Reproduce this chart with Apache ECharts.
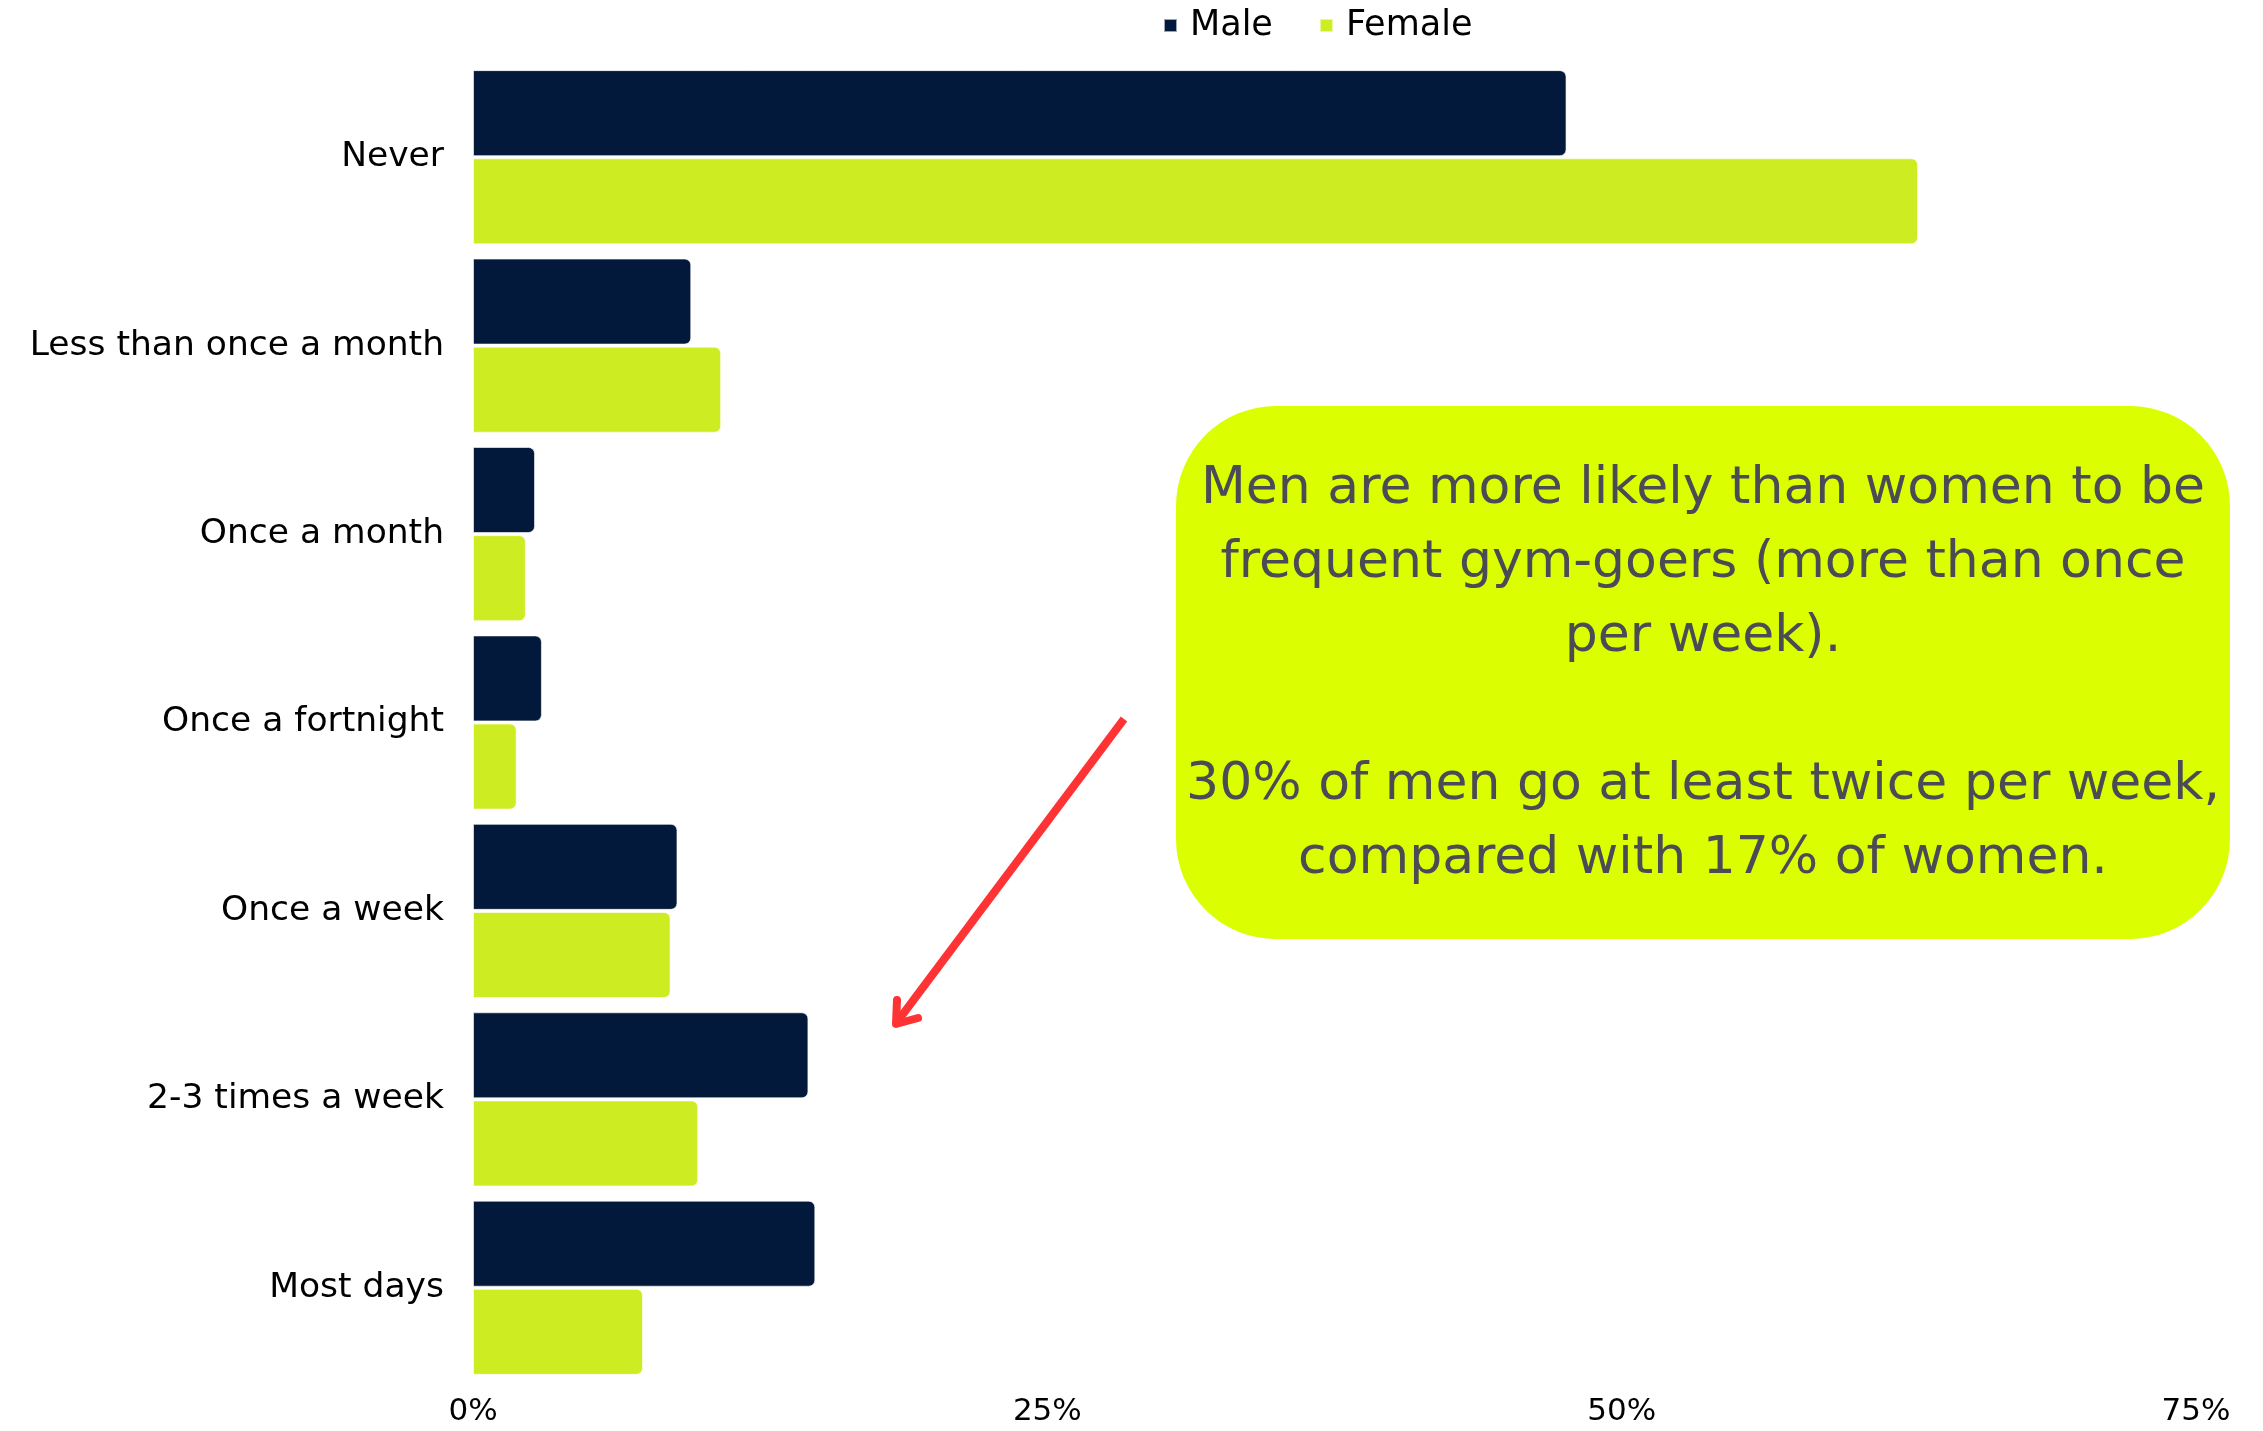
<!DOCTYPE html>
<html>
<head>
<meta charset="utf-8">
<script src="https://cdn.jsdelivr.net/npm/echarts@6/dist/echarts.min.js"></script>
<style>
  html, body { margin: 0; padding: 0; background: #ffffff; }
  #chart { width: 2263px; height: 1431px; }
</style>
</head>
<body>
<div id="chart"></div>
<script>
// Gym attendance frequency by gender (% of respondents)
const categories = ['Never', 'Less than once a month', 'Once a month', 'Once a fortnight', 'Once a week', '2-3 times a week', 'Most days'];
const maleValues = [47.6, 9.5, 2.7, 3.0, 8.9, 14.6, 14.9];
const femaleValues = [62.9, 10.8, 2.3, 1.9, 8.6, 9.8, 7.4];
const axisTicks = [0, 25, 50, 75];

const noteText = 'Men are more likely than women to be\nfrequent gym-goers (more than once\nper week).\n\n30% of men go at least twice per week,\ncompared with 17% of women.';

const FONT = '"DejaVu Sans", "Open Sans", sans-serif';
const MALE = '#03193b';
const FEMALE = '#cdec22';

const chart = echarts.init(document.getElementById('chart'), null, { renderer: 'canvas' });

chart.setOption({
  backgroundColor: '#ffffff',
  animation: false,
  textStyle: { fontFamily: FONT },
  legend: {
    data: ['Male', 'Female'],
    left: 1158,
    top: 3,
    icon: 'rect',
    itemWidth: 13,
    itemHeight: 13,
    itemGap: 46,
    textStyle: { fontSize: 35, color: '#000000', fontFamily: FONT, padding: [0, 0, 0, 8] }
  },
  grid: { left: 473, right: 67, top: 63, bottom: 49, containLabel: false },
  xAxis: {
    type: 'value',
    min: axisTicks[0],
    max: axisTicks[axisTicks.length - 1],
    interval: 25,
    axisLine: { show: false },
    axisTick: { show: false },
    splitLine: { show: false },
    axisLabel: {
      formatter: '{value}%',
      fontSize: 31,
      color: '#000000',
      margin: 14,
      fontFamily: FONT
    }
  },
  yAxis: {
    type: 'category',
    data: categories,
    inverse: true,
    axisLine: { show: false },
    axisTick: { show: false },
    splitLine: { show: false },
    axisLabel: { fontSize: 34.5, color: '#000000', margin: 29, fontFamily: FONT }
  },
  series: [
    {
      name: 'Male',
      type: 'bar',
      data: maleValues,
      barWidth: 86,
      barGap: '2.5%',
      itemStyle: { color: MALE, borderRadius: [0, 6, 6, 0], borderColor: 'rgba(255,255,255,0.6)', borderWidth: 1 }
    },
    {
      name: 'Female',
      type: 'bar',
      data: femaleValues,
      barWidth: 86,
      barGap: '2.5%',
      itemStyle: { color: FEMALE, borderRadius: [0, 6, 6, 0], borderColor: 'rgba(255,255,255,0.6)', borderWidth: 1 }
    }
  ],
  graphic: [
    {
      type: 'rect',
      shape: { x: 1176, y: 406, width: 1054, height: 533, r: 100 },
      style: { fill: '#dbff00' },
      z: 10
    },
    {
      type: 'text',
      x: 1703,
      y: 674,
      style: {
        text: noteText,
        fill: '#4b4b55',
        font: '52px ' + FONT,
        align: 'center',
        verticalAlign: 'middle',
        lineHeight: 74
      },
      z: 11
    },
    {
      type: 'line',
      shape: { x1: 1124, y1: 719, x2: 897, y2: 1022 },
      style: { stroke: '#ff3333', lineWidth: 8, lineCap: 'butt' },
      z: 10
    },
    {
      type: 'polyline',
      shape: { points: [[897, 1000], [896, 1024], [918, 1018]] },
      style: { stroke: '#ff3333', lineWidth: 8, lineCap: 'round', lineJoin: 'round', fill: null },
      z: 10
    }
  ]
});
</script>
</body>
</html>
